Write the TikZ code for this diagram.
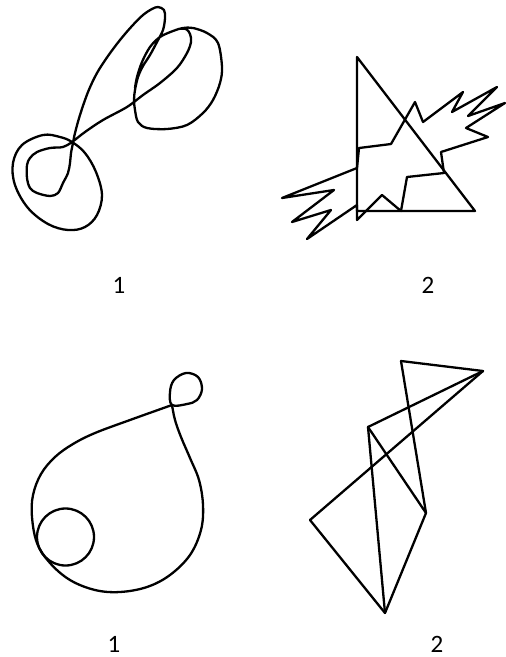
\documentclass[tikz,border=0pt]{standalone}
\usepackage{fontspec}
\setmainfont{Carlito}
\begin{document}
\begin{tikzpicture}[x=1pt,y=-1pt,
  stroke/.style={line width=2.3pt,black,line join=round,line cap=round},
  lbl/.style={font=\fontsize{25}{30}\selectfont,inner sep=0pt,anchor=base}]
\useasboundingbox (0,0) rectangle (506,657);
% ---------- top-left scribble ----------
\draw[stroke] plot[smooth cycle,tension=0.6] coordinates {(43,135) (60,137) (72,142) (85,153) (96,172) (102,195) (97,215) (85,227) (68,230) (48,224) (28,208) (15,185) (13,163) (22,145)};
\draw[stroke] plot[smooth,tension=0.55] coordinates {(178,29) (186,29) (190,34) (191,42) (187,53) (177,68) (160,83) (143,95) (127,107) (103,120) (85,132) (72,142) (63,147) (50,148) (37,152) (30,158) (27,165) (27,178) (30,188) (37,193) (50,196) (58,193) (63,183) (68,173) (70,163) (71,153) (73,143) (75,133) (80,115) (88,92) (97,73) (108,56) (120,40) (132,26) (143,15) (152,9) (158,7) (164,10) (165,18) (163,30) (157,42) (150,55) (143,66) (138,77) (135,90) (134,100) (135,110) (138,122) (147,128) (167,129) (187,125) (203,113) (213,100) (220,83) (222,67) (218,43) (207,33) (193,28) (183,28) (173,31) (160,37) (150,47) (142,62) (137,77) (135,88)};
% ---------- top-right triangle and star ----------
\coordinate (ta) at (357,57);
\coordinate (tb) at (357,211);
\coordinate (tc) at (475,211);
\draw[stroke] (ta) -- (tb) -- (tc) -- cycle;
\draw[stroke] (359,148) -- (391,144) -- (415,102) -- (423,122) -- (463,92) -- (452,112) -- (497,87) -- (468,116) -- (505,103) -- (466,128) -- (488,137) -- (441,152) -- (444,173) -- (407,177) -- (401,211) -- (382,195) -- (357,220) -- (357,205) -- (307,239) -- (331,210) -- (292,222) -- (334,190) -- (282,198) -- (357,168) -- cycle;
% ---------- bottom-left drop ----------
\draw[stroke] plot[smooth,tension=0.6] coordinates {(172,405) (130,420) (95,433) (73,444) (55,457) (41,474) (33,495) (32,517) (37,543) (50,563) (70,580) (95,590) (120,592) (147,587) (170,575) (190,555) (201,530) (203,505) (199,480) (190,458) (181,437) (175,420) (172,405)};
\draw[stroke] plot[smooth cycle,tension=0.6] coordinates {(172,405) (170,392) (174,380) (186,373) (198,377) (202,389) (197,400) (187,404)};
\draw[stroke] (65.5,537) circle[radius=28.5];
% ---------- bottom-right polygon graph ----------
\coordinate (pa) at (401,361);
\coordinate (pb) at (483,371);
\coordinate (pc) at (368,427);
\coordinate (pd) at (426,513);
\coordinate (pe) at (310,520);
\coordinate (pf) at (385,613);
\draw[stroke] (pa) -- (pb);
\draw[stroke] (pb) -- (pc);
\draw[stroke] (pb) -- (pe);
\draw[stroke] (pa) -- (pd);
\draw[stroke] (pc) -- (pd);
\draw[stroke] (pc) -- (pf);
\draw[stroke] (pe) -- (pf);
\draw[stroke] (pd) -- (pf);
% ---------- labels ----------
\node[lbl] (l1) at (119,293) {1};
\node[lbl] (l2) at (428,293) {2};
\node[lbl] (l3) at (114,652) {1};
\node[lbl] (l4) at (437,652) {2};
\end{tikzpicture}
\end{document}
